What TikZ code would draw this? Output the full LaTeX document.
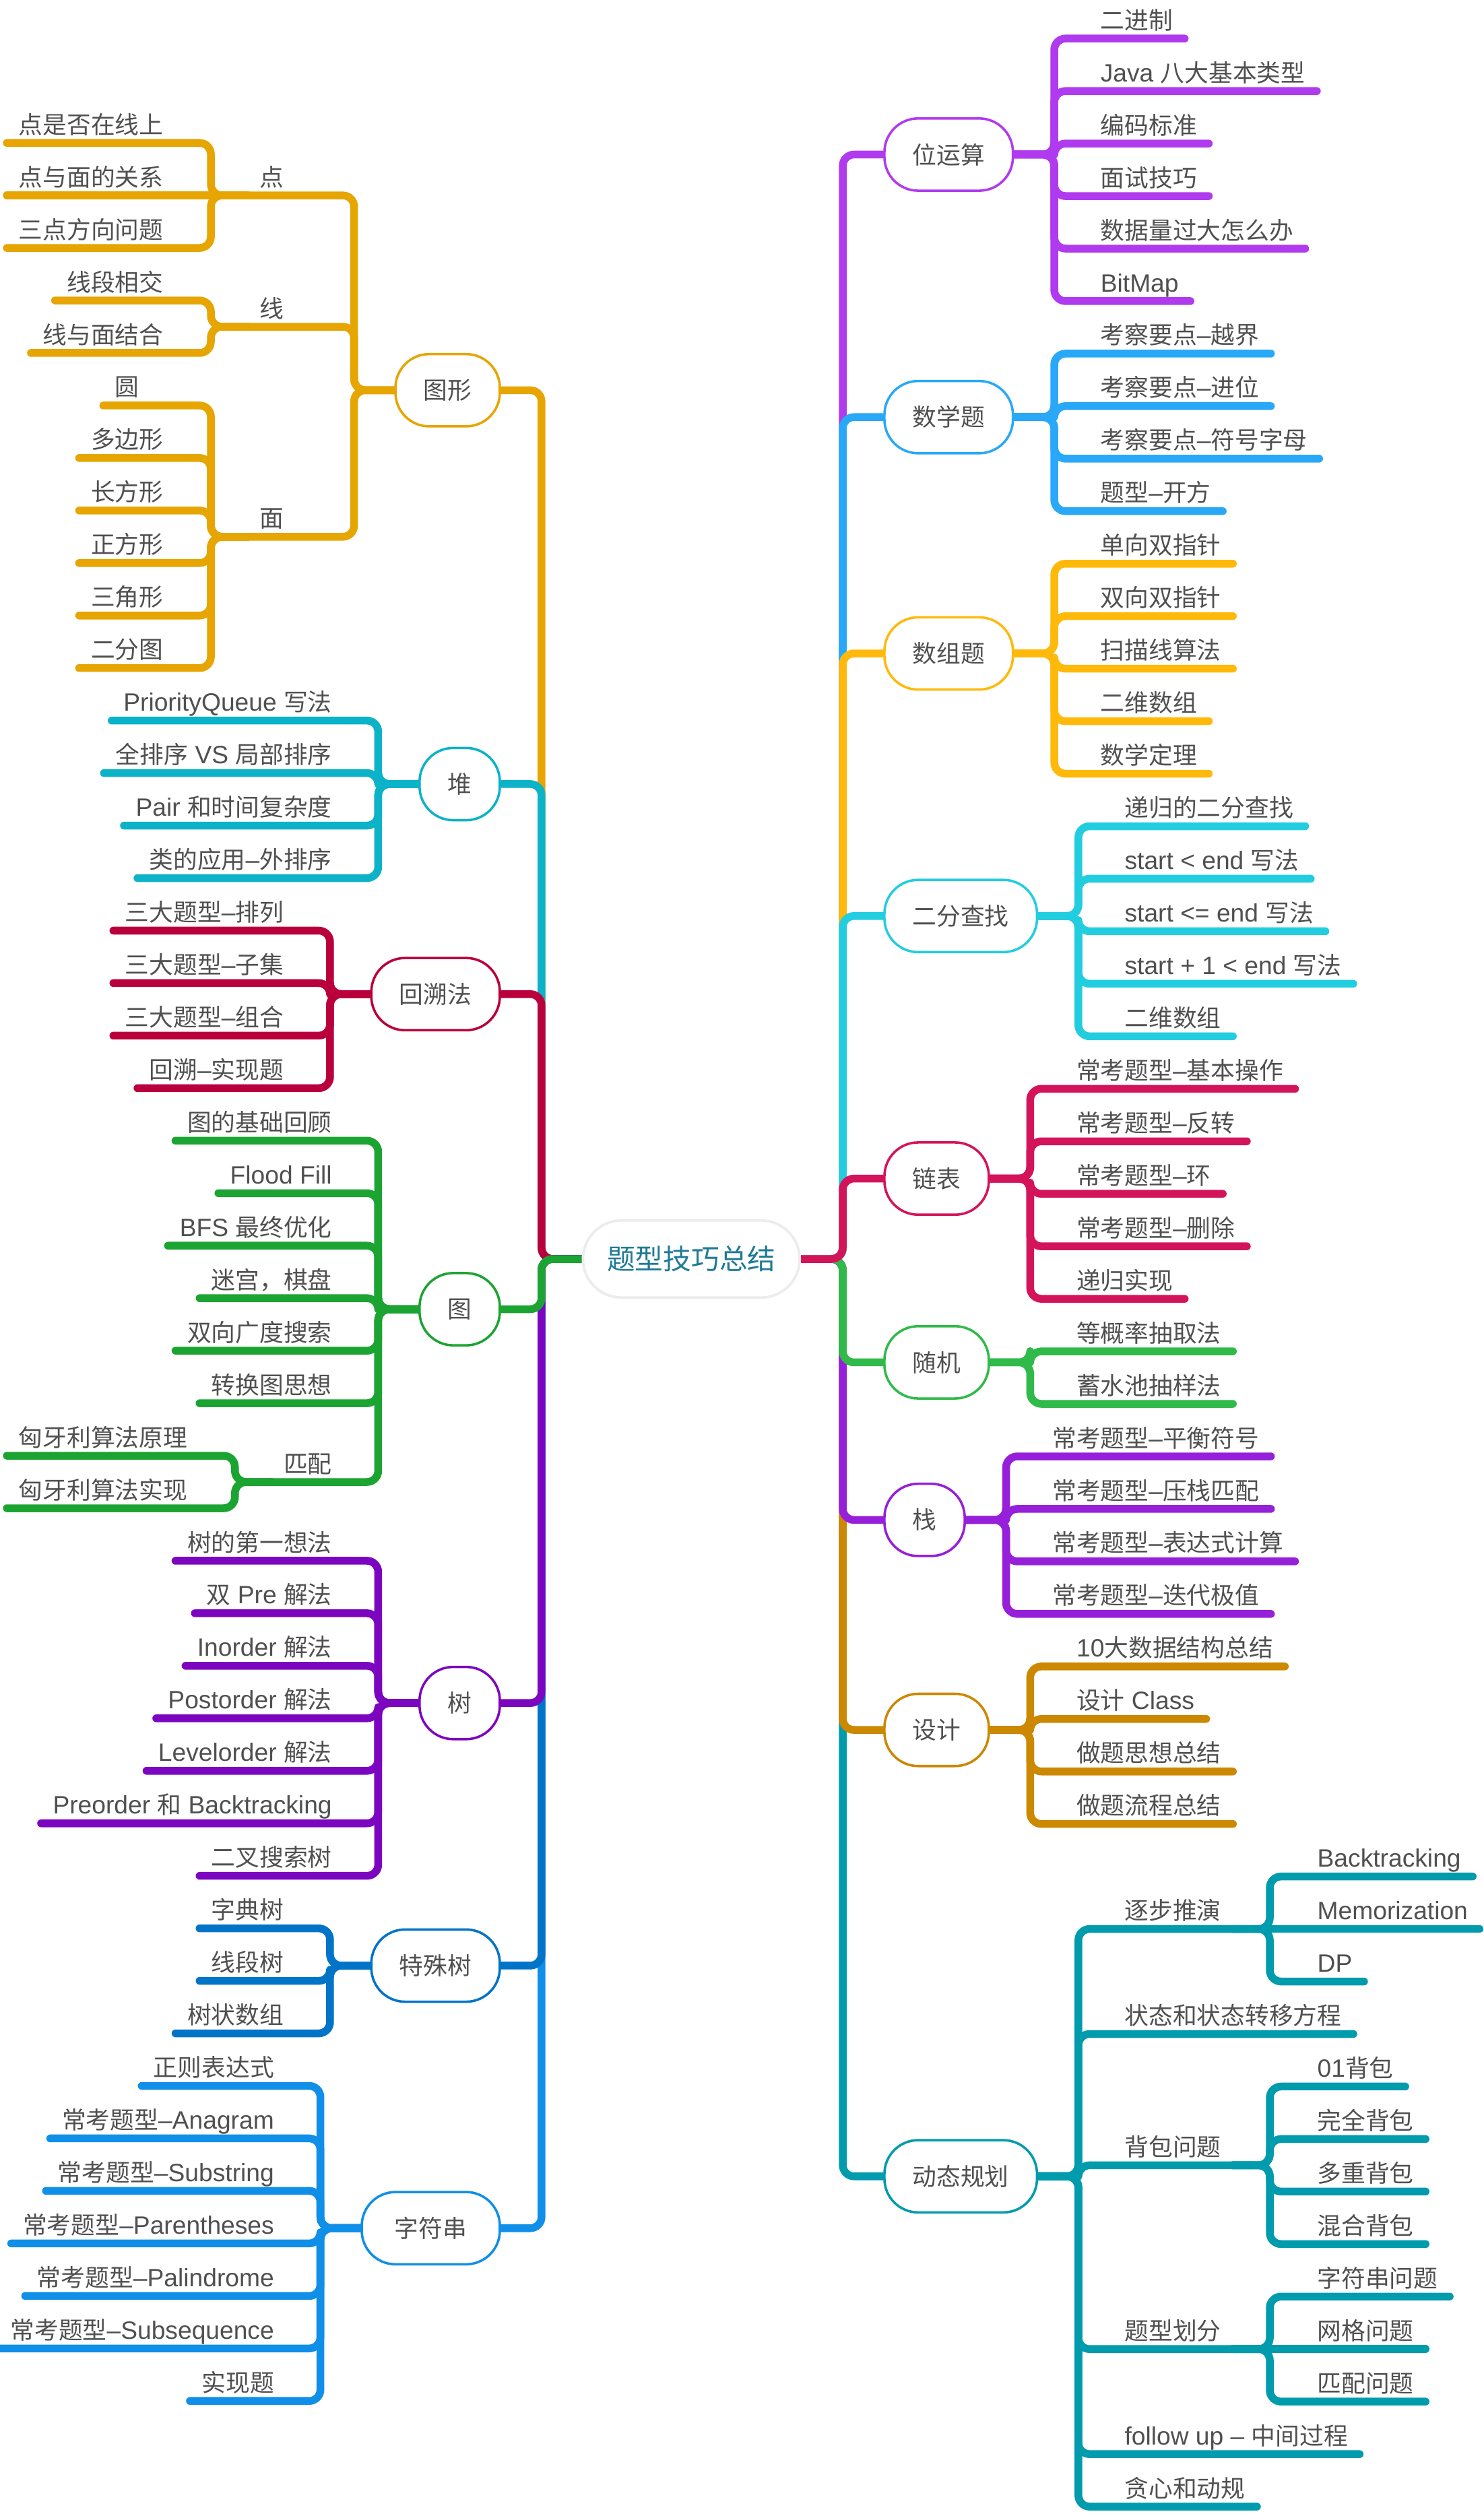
\documentclass[tikz,border=0pt]{standalone}
\usepackage{fontspec}
\setmainfont{Noto Sans CJK SC}
\newfontfamily\enfont{Liberation Sans}[Scale=1.04]
\newcommand\latn[1]{{\enfont #1}}
\newcommand\dsh{{\enfont –}}
\newcommand\onechar[1]{\makebox[0.6cm][l]{#1}}
\newcommand\mapsize{\fontsize{8.54pt}{10pt}\selectfont}
\newcommand\rootsize{\fontsize{9.96pt}{12pt}\selectfont}

\definecolor{ink}{RGB}{80,80,80}
\definecolor{rootink}{RGB}{31,122,150}
\definecolor{rootline}{RGB}{236,236,236}
\definecolor{cWei}{RGB}{176,58,238}
\definecolor{cShu}{RGB}{42,168,248}
\definecolor{cArr}{RGB}{255,185,10}
\definecolor{cBin}{RGB}{34,205,224}
\definecolor{cLink}{RGB}{212,20,90}
\definecolor{cRand}{RGB}{48,186,74}
\definecolor{cStack}{RGB}{150,32,218}
\definecolor{cDesign}{RGB}{204,136,0}
\definecolor{cDp}{RGB}{0,155,172}
\definecolor{cGeo}{RGB}{230,165,0}
\definecolor{cHeap}{RGB}{12,178,200}
\definecolor{cBack}{RGB}{186,0,60}
\definecolor{cGraph}{RGB}{28,164,50}
\definecolor{cTree}{RGB}{124,6,192}
\definecolor{cSpec}{RGB}{2,116,200}
\definecolor{cStr}{RGB}{16,143,232}

\pgfdeclarelayer{paper}
\pgfdeclarelayer{wires}
\pgfsetlayers{paper,wires,main}

\tikzset{
  wire/.style={draw=#1, line width=2.75pt, line cap=round, line join=round, rounded corners=0.14cm},
  topic/.style={draw=#1, line width=0.85pt, fill=white, rounded corners=0.42cm,
    inner xsep=0.35cm, inner ysep=0pt, minimum height=0.9cm, text=ink},
  leaf/.style={inner xsep=0.14cm, inner ysep=0pt, text height=0.26cm, text depth=0.11cm, text=ink},
  rleaf/.style={leaf, anchor=south west},
  lleaf/.style={leaf, anchor=south east},
  root/.style={draw=rootline, line width=0.9pt, fill=white, rounded corners=0.48cm,
    minimum width=2.7cm, minimum height=0.96cm, text=rootink, font=\rootsize}
}

\begin{document}
\begin{tikzpicture}[x=0.02cm, y=-0.02cm, font=\mapsize]
  \begin{pgfonlayer}{paper}
    \fill[white] (0,0) rectangle (924,1568);
  \end{pgfonlayer}
  \useasboundingbox (0,0) rectangle (924,1568);

  \node[root] (root) at (430.5,784) {题型技巧总结};

  % right side
  \node[topic=cWei, anchor=west] (wei) at (550,96.25) {位运算};
  \node[topic=cShu, anchor=west] (shuxue) at (550,259.75) {数学题};
  \node[topic=cArr, anchor=west] (shuzu) at (550,406.9) {数组题};
  \node[topic=cBin, anchor=west] (erfen) at (550,570.4) {二分查找};
  \node[topic=cLink, anchor=west] (lianbiao) at (550,733.9) {链表};
  \node[topic=cRand, anchor=west] (suiji) at (550,848.35) {随机};
  \node[topic=cStack, anchor=west] (zhan) at (550,946.45) {栈};
  \node[topic=cDesign, anchor=west] (sheji) at (550,1077.25) {设计};
  \node[topic=cDp, anchor=west] (dongtai) at (550,1355.2) {动态规划};

  \node[rleaf] (w1) at (678,24) {二进制};
  \node[rleaf] (w2) at (678,56.7) {\latn{Java }八大基本类型};
  \node[rleaf] (w3) at (678,89.4) {编码标准};
  \node[rleaf] (w4) at (678,122.1) {面试技巧};
  \node[rleaf] (w5) at (678,154.8) {数据量过大怎么办};
  \node[rleaf] (w6) at (678,187.5) {\latn{BitMap}};

  \node[rleaf] (s1) at (678,220.2) {考察要点\dsh 越界};
  \node[rleaf] (s2) at (678,252.9) {考察要点\dsh 进位};
  \node[rleaf] (s3) at (678,285.6) {考察要点\dsh 符号字母};
  \node[rleaf] (s4) at (678,318.3) {题型\dsh 开方};

  \node[rleaf] (a1) at (678,351) {单向双指针};
  \node[rleaf] (a2) at (678,383.7) {双向双指针};
  \node[rleaf] (a3) at (678,416.4) {扫描线算法};
  \node[rleaf] (a4) at (678,449.1) {二维数组};
  \node[rleaf] (a5) at (678,481.8) {数学定理};

  \node[rleaf] (b1) at (693,514.5) {递归的二分查找};
  \node[rleaf] (b2) at (693,547.2) {\latn{start < end }写法};
  \node[rleaf] (b3) at (693,579.9) {\latn{start <= end }写法};
  \node[rleaf] (b4) at (693,612.6) {\latn{start + 1 < end }写法};
  \node[rleaf] (b5) at (693,645.3) {二维数组};

  \node[rleaf] (l1) at (663,678) {常考题型\dsh 基本操作};
  \node[rleaf] (l2) at (663,710.7) {常考题型\dsh 反转};
  \node[rleaf] (l3) at (663,743.4) {常考题型\dsh 环};
  \node[rleaf] (l4) at (663,776.1) {常考题型\dsh 删除};
  \node[rleaf] (l5) at (663,808.8) {递归实现};

  \node[rleaf] (r1) at (663,841.5) {等概率抽取法};
  \node[rleaf] (r2) at (663,874.2) {蓄水池抽样法};

  \node[rleaf] (z1) at (648,906.9) {常考题型\dsh 平衡符号};
  \node[rleaf] (z2) at (648,939.6) {常考题型\dsh 压栈匹配};
  \node[rleaf] (z3) at (648,972.3) {常考题型\dsh 表达式计算};
  \node[rleaf] (z4) at (648,1005) {常考题型\dsh 迭代极值};

  \node[rleaf] (d1) at (663,1037.7) {\latn{10}大数据结构总结};
  \node[rleaf] (d2) at (663,1070.4) {设计\latn{ Class}};
  \node[rleaf] (d3) at (663,1103.1) {做题思想总结};
  \node[rleaf] (d4) at (663,1135.8) {做题流程总结};

  \node[rleaf] (p1) at (693,1201.2) {逐步推演};
  \node[rleaf] (p2) at (693,1266.6) {状态和状态转移方程};
  \node[rleaf] (p3) at (693,1348.35) {背包问题};
  \node[rleaf] (p4) at (693,1462.8) {题型划分};
  \node[rleaf] (p5) at (693,1528.2) {\latn{follow up – }中间过程};
  \node[rleaf] (p6) at (693,1560.9) {贪心和动规};
  \node[rleaf] (p11) at (813,1168.5) {\latn{Backtracking}};
  \node[rleaf] (p12) at (813,1201.2) {\latn{Memorization}};
  \node[rleaf] (p13) at (813,1233.9) {\latn{DP}};
  \node[rleaf] (p31) at (813,1299.3) {\latn{01}背包};
  \node[rleaf] (p32) at (813,1332) {完全背包};
  \node[rleaf] (p33) at (813,1364.7) {多重背包};
  \node[rleaf] (p34) at (813,1397.4) {混合背包};
  \node[rleaf] (p41) at (813,1430.1) {字符串问题};
  \node[rleaf] (p42) at (813,1462.8) {网格问题};
  \node[rleaf] (p43) at (813,1495.5) {匹配问题};

  % left side
  \node[topic=cGeo, anchor=east] (tuxing) at (312,243) {图形};
  \node[topic=cHeap, anchor=east] (dui) at (312,488.25) {堆};
  \node[topic=cBack, anchor=east] (huisu) at (312,619.05) {回溯法};
  \node[topic=cGraph, anchor=east] (tu) at (312,815.25) {图};
  \node[topic=cTree, anchor=east] (shu) at (312,1060.5) {树};
  \node[topic=cSpec, anchor=east] (teshu) at (312,1224) {特殊树};
  \node[topic=cStr, anchor=east, minimum width=1.72cm] (zifu) at (312,1387.5) {字符串};

  \node[lleaf] (dian) at (199,121.7) {\onechar{点}};
  \node[lleaf] (xian) at (199,203.45) {\onechar{线}};
  \node[lleaf] (mian) at (199,334.25) {\onechar{面}};
  \node[lleaf] (g1) at (109,89) {点是否在线上};
  \node[lleaf] (g2) at (109,121.7) {点与面的关系};
  \node[lleaf] (g3) at (109,154.4) {三点方向问题};
  \node[lleaf] (g4) at (109,187.1) {线段相交};
  \node[lleaf] (g5) at (109,219.8) {线与面结合};
  \node[lleaf] (g6) at (109,252.5) {\onechar{圆}};
  \node[lleaf] (g7) at (109,285.2) {多边形};
  \node[lleaf] (g8) at (109,317.9) {长方形};
  \node[lleaf] (g9) at (109,350.6) {正方形};
  \node[lleaf] (g10) at (109,383.3) {三角形};
  \node[lleaf] (g11) at (109,416) {二分图};

  \node[lleaf] (h1) at (214,448.7) {\latn{PriorityQueue }写法};
  \node[lleaf] (h2) at (214,481.4) {全排序\latn{ VS }局部排序};
  \node[lleaf] (h3) at (214,514.1) {\latn{Pair }和时间复杂度};
  \node[lleaf] (h4) at (214,546.8) {类的应用\dsh 外排序};

  \node[lleaf] (k1) at (184,579.5) {三大题型\dsh 排列};
  \node[lleaf] (k2) at (184,612.2) {三大题型\dsh 子集};
  \node[lleaf] (k3) at (184,644.9) {三大题型\dsh 组合};
  \node[lleaf] (k4) at (184,677.6) {回溯\dsh 实现题};

  \node[lleaf] (t1) at (214,710.3) {图的基础回顾};
  \node[lleaf] (t2) at (214,743) {\latn{Flood Fill}};
  \node[lleaf] (t3) at (214,775.7) {\latn{BFS }最终优化};
  \node[lleaf] (t4) at (214,808.4) {迷宫，棋盘};
  \node[lleaf] (t5) at (214,841.1) {双向广度搜索};
  \node[lleaf] (t6) at (214,873.8) {转换图思想};
  \node[lleaf] (t7) at (214,922.85) {匹配};
  \node[lleaf] (t71) at (124,906.5) {匈牙利算法原理};
  \node[lleaf] (t72) at (124,939.2) {匈牙利算法实现};

  \node[lleaf] (e1) at (214,971.9) {树的第一想法};
  \node[lleaf] (e2) at (214,1004.6) {双\latn{ Pre }解法};
  \node[lleaf] (e3) at (214,1037.3) {\latn{Inorder }解法};
  \node[lleaf] (e4) at (214,1070) {\latn{Postorder }解法};
  \node[lleaf] (e5) at (214,1102.7) {\latn{Levelorder }解法};
  \node[lleaf] (e6) at (214,1135.4) {\latn{Preorder }和\latn{ Backtracking}};
  \node[lleaf] (e7) at (214,1168.1) {二叉搜索树};

  \node[lleaf] (q1) at (184,1200.8) {字典树};
  \node[lleaf] (q2) at (184,1233.5) {线段树};
  \node[lleaf] (q3) at (184,1266.2) {树状数组};

  \node[lleaf] (c1) at (178,1298.9) {正则表达式};
  \node[lleaf] (c2) at (178,1331.6) {常考题型\latn{–Anagram}};
  \node[lleaf] (c3) at (178,1364.3) {常考题型\latn{–Substring}};
  \node[lleaf] (c4) at (178,1397) {常考题型\latn{–Parentheses}};
  \node[lleaf] (c5) at (178,1429.7) {常考题型\latn{–Palindrome}};
  \node[lleaf] (c6) at (178,1462.4) {常考题型\latn{–Subsequence}};
  \node[lleaf] (c7) at (178,1495.1) {实现题};

  \begin{pgfonlayer}{wires}
    \foreach \b/\c in {dongtai/cDp, sheji/cDesign, zhan/cStack, suiji/cRand, wei/cWei, shuxue/cShu, shuzu/cArr, erfen/cBin, lianbiao/cLink}
      \draw[wire=\c] (root.east) -- ++(26,0) |- (\b.west);
    \foreach \b/\c in {tuxing/cGeo, dui/cHeap, huisu/cBack, zifu/cStr, teshu/cSpec, shu/cTree, tu/cGraph}
      \draw[wire=\c] (root.west) -- ++(-25,0) |- (\b.east);

    \foreach \i in {1,...,6} \draw[wire=cWei] (wei.east) -- ++(25,0) |- (w\i.south east);
    \foreach \i in {1,...,4} \draw[wire=cShu] (shuxue.east) -- ++(25,0) |- (s\i.south east);
    \foreach \i in {1,...,5} \draw[wire=cArr] (shuzu.east) -- ++(25,0) |- (a\i.south east);
    \foreach \i in {1,...,5} \draw[wire=cBin] (erfen.east) -- ++(25,0) |- (b\i.south east);
    \foreach \i in {1,...,5} \draw[wire=cLink] (lianbiao.east) -- ++(25,0) |- (l\i.south east);
    \foreach \i in {1,2} \draw[wire=cRand] (suiji.east) -- ++(25,0) |- (r\i.south east);
    \foreach \i in {1,...,4} \draw[wire=cStack] (zhan.east) -- ++(25,0) |- (z\i.south east);
    \foreach \i in {1,...,4} \draw[wire=cDesign] (sheji.east) -- ++(25,0) |- (d\i.south east);
    \foreach \i in {1,...,6} \draw[wire=cDp] (dongtai.east) -- ++(25,0) |- (p\i.south east);
    \foreach \i in {1,3} \draw[wire=cDp] (p1.south east) -- ++(23,0) |- (p1\i.south east);
    \draw[wire=cDp] (p1.south east) -- (p12.south east);
    \foreach \i in {1,...,4} \draw[wire=cDp] (p3.south east) -- ++(23,0) |- (p3\i.south east);
    \foreach \i in {1,3} \draw[wire=cDp] (p4.south east) -- ++(23,0) |- (p4\i.south east);
    \draw[wire=cDp] (p4.south east) -- (p42.south east);

    \foreach \n in {dian,xian,mian} \draw[wire=cGeo] (tuxing.west) -- ++(-25,0) |- (\n.south west);
    \foreach \i in {1,3} \draw[wire=cGeo] (dian.south west) -- ++(-23,0) |- (g\i.south west);
    \draw[wire=cGeo] (dian.south west) -- (g2.south west);
    \foreach \i in {4,5} \draw[wire=cGeo] (xian.south west) -- ++(-23,0) |- (g\i.south west);
    \foreach \i in {6,...,11} \draw[wire=cGeo] (mian.south west) -- ++(-23,0) |- (g\i.south west);
    \foreach \i in {1,...,4} \draw[wire=cHeap] (dui.west) -- ++(-25,0) |- (h\i.south west);
    \foreach \i in {1,...,4} \draw[wire=cBack] (huisu.west) -- ++(-25,0) |- (k\i.south west);
    \foreach \i in {1,...,7} \draw[wire=cGraph] (tu.west) -- ++(-25,0) |- (t\i.south west);
    \foreach \i in {1,2} \draw[wire=cGraph] (t7.south west) -- ++(-23,0) |- (t7\i.south west);
    \foreach \i in {1,...,7} \draw[wire=cTree] (shu.west) -- ++(-25,0) |- (e\i.south west);
    \foreach \i in {1,2,3} \draw[wire=cSpec] (teshu.west) -- ++(-25,0) |- (q\i.south west);
    \foreach \i in {1,...,7} \draw[wire=cStr] (zifu.west) -- ++(-25,0) |- (c\i.south west);
  \end{pgfonlayer}
\end{tikzpicture}
\end{document}
